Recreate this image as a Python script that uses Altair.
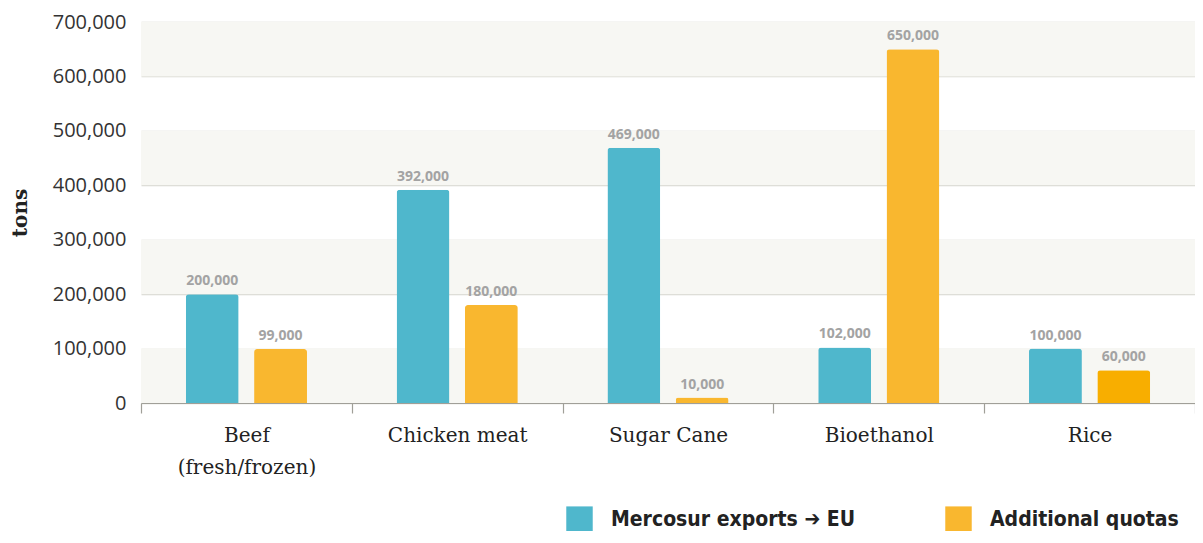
import altair as alt
import pandas as pd

categories = ["Beef (fresh/frozen)", "Chicken meat", "Sugar Cane", "Bioethanol", "Rice"]
mercosur = [200000, 392000, 469000, 102000, 100000]
quotas = [99000, 180000, 10000, 650000, 60000]
series_names = ["Mercosur exports \u2794 EU", "Additional quotas"]
band_lo = [0, 200000, 400000, 600000]
band_hi = [100000, 300000, 500000, 700000]

rows = []
for i, c in enumerate(categories):
    rows.append({"cat": c, "series": series_names[0], "shade": series_names[0], "v": mercosur[i]})
    shade = "Additional quotas (rice)" if c == "Rice" else series_names[1]
    rows.append({"cat": c, "series": series_names[1], "shade": shade, "v": quotas[i]})
df = pd.DataFrame(rows)
bands = pd.DataFrame({"lo": band_lo, "hi": band_hi})

W, H = 1054, 381

xenc = alt.X("cat:N", sort=categories, title=None,
             scale=alt.Scale(paddingInner=0, paddingOuter=0),
             axis=alt.Axis(labelAngle=0, tickBand="extent", tickSize=10, tickColor="#a09f98",
                           domainColor="#a09f98", domainWidth=1.2, tickWidth=1.2,
                           labelFont="DejaVu Serif", labelFontSize=20, labelColor="#222222",
                           labelPadding=12, labelLineHeight=32, labelBaseline="top",
                           labelExpr="datum.label == 'Beef (fresh/frozen)' ? ['Beef', '(fresh/frozen)'] : datum.label"))
yscale = alt.Scale(domain=[0, 700000])
xoff = alt.XOffset("series:N", sort=series_names,
                   scale=alt.Scale(paddingInner=0.226, paddingOuter=0.656))

bg = alt.Chart(bands).mark_rect(color="#f7f7f3").encode(
    y=alt.Y("lo:Q", scale=yscale),
    y2="hi:Q",
)

bars = alt.Chart(df).mark_bar(cornerRadiusTopLeft=3, cornerRadiusTopRight=3).encode(
    x=xenc,
    xOffset=xoff,
    y=alt.Y("v:Q", scale=yscale, title="tons",
            axis=alt.Axis(format=",d", values=[0, 100000, 200000, 300000, 400000, 500000, 600000, 700000],
                          domain=False, ticks=False, gridColor="#d6d6cf", gridWidth=1.5,
                          labelFont="Open Sans", labelFontSize=20, labelColor="#333333", labelPadding=15,
                          titleFont="DejaVu Serif", titleFontSize=20, titleFontWeight="bold",
                          titleColor="#222222", titlePadding=22)),
    color=alt.Color("shade:N",
                    scale=alt.Scale(domain=[series_names[0], series_names[1], "Additional quotas (rice)"],
                                    range=["#4fb7cc", "#f9b72f", "#f8ae00"]),
                    legend=alt.Legend(values=series_names, title=None, orient="none",
                                      direction="horizontal", legendX=425, legendY=484,
                                      symbolType="square", symbolSize=700, symbolStrokeWidth=0,
                                      labelFont="DejaVu Sans Condensed", labelFontSize=21,
                                      labelFontWeight="bold", labelColor="#222222", labelLimit=500,
                                      labelOffset=18, columnPadding=89, symbolOpacity=1)),
)

labels = alt.Chart(df).mark_text(baseline="bottom", dy=-6, font="Open Sans", fontSize=14,
                                 fontWeight="bold", color="#a3a3a3").encode(
    x=xenc,
    xOffset=xoff,
    y=alt.Y("v:Q", scale=yscale),
    text=alt.Text("v:Q", format=",d"),
)

chart = alt.layer(bg, bars, labels).properties(
    width=W, height=H,
    autosize=alt.AutoSizeParams(type="none"),
    padding={"left": 133, "top": 14, "right": 0, "bottom": 128},
).configure_view(stroke=None)

chart.save("out.html", embed_options={"renderer": "svg", "actions": False})
